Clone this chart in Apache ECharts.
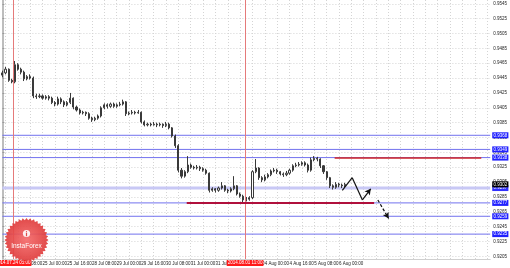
<!DOCTYPE html>
<html><head><meta charset="utf-8">
<script src="https://cdn.jsdelivr.net/npm/echarts@6/dist/echarts.min.js"></script>
<style>html,body{margin:0;padding:0;background:#fff}#c{width:510px;height:268px}</style>
</head><body><div id="c"></div>
<script>
// 2-hour bars: [open, close, low, high]
const ohlc = [
[0.9449,0.9452,0.9446,0.9455],[0.9452,0.9457,0.9450,0.9460],[0.9457,0.9442,0.9440,0.9458],[0.9442,0.9440,0.9438,0.9444],
[0.9440,0.9463,0.9438,0.9468],[0.9463,0.9457,0.9455,0.9465],[0.9457,0.9453,0.9450,0.9459],[0.9453,0.9444,0.9441,0.9455],
[0.9444,0.9447,0.9442,0.9449],[0.9447,0.9445,0.9443,0.9450],[0.9445,0.9421,0.9418,0.9447],[0.9421,0.9420,0.9417,0.9424],
[0.9420,0.9421,0.9418,0.9424],[0.9421,0.9418,0.9416,0.9423],[0.9418,0.9420,0.9416,0.9422],[0.9420,0.9418,0.9415,0.9422],
[0.9418,0.9412,0.9410,0.9420],[0.9412,0.9410,0.9407,0.9414],[0.9410,0.9417,0.9408,0.9420],[0.9417,0.9413,0.9410,0.9419],
[0.9413,0.9409,0.9406,0.9415],[0.9409,0.9412,0.9407,0.9414],[0.9412,0.9418,0.9410,0.9425],[0.9418,0.9406,0.9403,0.9419],
[0.9406,0.9402,0.9400,0.9408],[0.9402,0.9398,0.9396,0.9404],[0.9398,0.9399,0.9396,0.9401],[0.9399,0.9397,0.9394,0.9400],
[0.9397,0.9391,0.9389,0.9399],[0.9391,0.9389,0.9386,0.9393],[0.9389,0.9391,0.9387,0.9393],[0.9391,0.9394,0.9389,0.9396],
[0.9394,0.9405,0.9392,0.9407],[0.9405,0.9409,0.9403,0.9411],[0.9409,0.9407,0.9404,0.9411],[0.9407,0.9410,0.9405,0.9412],
[0.9410,0.9407,0.9405,0.9412],[0.9407,0.9409,0.9405,0.9411],[0.9409,0.9410,0.9407,0.9413],[0.9410,0.9413,0.9408,0.9416],
[0.9413,0.9397,0.9394,0.9414],[0.9397,0.9398,0.9395,0.9400],[0.9398,0.9399,0.9396,0.9402],[0.9399,0.9398,0.9396,0.9401],
[0.9398,0.9399,0.9397,0.9402],[0.9399,0.9386,0.9384,0.9400],[0.9386,0.9382,0.9380,0.9388],[0.9382,0.9383,0.9380,0.9385],
[0.9383,0.9382,0.9380,0.9385],[0.9382,0.9383,0.9381,0.9386],[0.9383,0.9382,0.9379,0.9385],[0.9382,0.9383,0.9380,0.9385],
[0.9383,0.9381,0.9378,0.9384],[0.9381,0.9383,0.9379,0.9386],[0.9383,0.9378,0.9376,0.9385],[0.9378,0.9367,0.9365,0.9379],
[0.9367,0.9354,0.9351,0.9369],[0.9354,0.9321,0.9318,0.9356],[0.9321,0.9313,0.9310,0.9324],[0.9313,0.9319,0.9311,0.9321],
[0.9319,0.9328,0.9317,0.9340],[0.9328,0.9325,0.9323,0.9330],[0.9325,0.9324,0.9322,0.9327],[0.9324,0.9325,0.9322,0.9328],
[0.9325,0.9323,0.9320,0.9327],[0.9323,0.9321,0.9319,0.9325],[0.9321,0.9317,0.9315,0.9323],[0.9317,0.9294,0.9291,0.9318],
[0.9294,0.9296,0.9292,0.9298],[0.9296,0.9294,0.9291,0.9297],[0.9294,0.9297,0.9292,0.9299],[0.9297,0.9300,0.9295,0.9305],
[0.9300,0.9294,0.9292,0.9301],[0.9294,0.9293,0.9290,0.9296],[0.9293,0.9296,0.9291,0.9298],[0.9296,0.9300,0.9294,0.9313],
[0.9300,0.9289,0.9287,0.9301],[0.9289,0.9286,0.9284,0.9291],[0.9286,0.9281,0.9278,0.9288],[0.9281,0.9282,0.9279,0.9285],
[0.9282,0.9284,0.9280,0.9286],[0.9284,0.9319,0.9282,0.9321],[0.9319,0.9324,0.9317,0.9336],[0.9324,0.9311,0.9308,0.9325],
[0.9311,0.9308,0.9305,0.9313],[0.9308,0.9312,0.9306,0.9315],[0.9312,0.9315,0.9310,0.9317],[0.9315,0.9320,0.9313,0.9322],
[0.9320,0.9321,0.9318,0.9324],[0.9321,0.9319,0.9316,0.9323],[0.9319,0.9316,0.9314,0.9320],[0.9316,0.9315,0.9312,0.9318],
[0.9315,0.9317,0.9313,0.9320],[0.9317,0.9321,0.9315,0.9323],[0.9321,0.9327,0.9319,0.9329],[0.9327,0.9328,0.9325,0.9331],
[0.9328,0.9329,0.9326,0.9332],[0.9329,0.9331,0.9327,0.9333],[0.9331,0.9328,0.9326,0.9333],[0.9328,0.9321,0.9318,0.9330],
[0.9321,0.9335,0.9319,0.9338],[0.9335,0.9337,0.9333,0.9340],[0.9337,0.9336,0.9333,0.9339],[0.9336,0.9327,0.9324,0.9337],
[0.9327,0.9319,0.9316,0.9328],[0.9319,0.9311,0.9308,0.9320],[0.9311,0.9300,0.9297,0.9312],[0.9300,0.9298,0.9295,0.9302],
[0.9298,0.9302,0.9296,0.9305],[0.9302,0.9301,0.9298,0.9304],[0.9301,0.9300,0.9297,0.9303],[0.9300,0.9302,0.9298,0.9304]
];
const yTicks = [0.9545,0.9525,0.9505,0.9485,0.9465,0.9445,0.9425,0.9405,0.9385,0.9365,0.9345,0.9325,0.9305,0.9285,0.9265,0.9245,0.9225,0.9205];
const levelLines = [0.9368,0.9349,0.9338,0.9277,0.9259,0.9235];
const bandLevel = 0.9297;
const lastPrice = 0.9302;
const resistance = {from:107.6, to:155.1, value:0.9338};
const support = {from:59.7, to:120.4, value:0.9277};
const zigzag = [[110.1,0.9294],[113.3,0.9311],[116.6,0.9281],[119.3,0.9296]];
const dashedArrow = [[121.6,0.9281],[125.1,0.9256]];
const markers = [{x:3.4,label:'2014.07.24 05:00'},{x:78.6,label:'2014.08.01 11:00'}];
const slotCount = 159;
const startTime = Date.UTC(2014,6,23,22);
const months = ['Jan','Feb','Mar','Apr','May','Jun','Jul','Aug','Sep','Oct','Nov','Dec'];

const categories = [];
let t = startTime;
for (let i = 0; i < slotCount; i++) {
  const d = new Date(t);
  categories.push(d.getUTCDate()+' '+months[d.getUTCMonth()]+' '+String(d.getUTCHours()).padStart(2,'0')+':00');
  t += 2*3600e3;
  if (new Date(t).getUTCDay() === 6) t += 48*3600e3;
}

const F = 'Liberation Sans, Arial, sans-serif';
const chart = echarts.init(document.getElementById('c'), null, {renderer:'canvas'});

function levelSeries(v, color, width, boxColor, z) {
  return {
    type:'line', xAxisIndex:1, silent:true, z:z, showSymbol:false, symbol:'none',
    data:[[0, v],[slotCount-1, v]],
    lineStyle:{color:color, width:width, opacity: color ? 1 : 0},
    endLabel:{show:true, formatter:v.toFixed(4), distance:2, color:'#fff', backgroundColor:boxColor,
      fontSize:4.5, fontFamily:F, padding:[0.5,1.2], lineHeight:5}
  };
}

// starburst logo outline
const burst = [];
for (let k = 0; k < 72; k++) {
  const a = k/72*Math.PI*2, r = (k%2===0) ? 22 : 19.8;
  burst.push([26.5 + r*Math.cos(a), 240 + r*Math.sin(a)]);
}

chart.setOption({
  animation:false,
  backgroundColor:'#fff',
  grid:{left:2.4, right:16, top:0, bottom:9, containLabel:false},
  xAxis:[{
    type:'category', data:categories, boundaryGap:false,
    axisLine:{show:true, lineStyle:{color:'#d0d0d0', width:1}},
    axisTick:{show:false},
    axisLabel:{show:true, interval:(i)=> (i-5)%8===0 && i <= ohlc.length, align:'left', margin:2, fontSize:4.5, color:'#222', fontFamily:F},
    splitLine:{show:true, interval:(i)=> (i-1)%4===0, lineStyle:{color:'#d4d4d4', type:[1,2], width:1}}
  },{
    type:'value', min:0, max:slotCount-1, show:false
  }],
  yAxis:{
    type:'value', position:'right', min:0.92015, max:0.95501, scale:true,
    axisLine:{show:true, lineStyle:{color:'#bdbdbd', width:2}},
    axisTick:{show:true, customValues:yTicks, length:2, lineStyle:{color:'#999'}},
    axisLabel:{customValues:yTicks, formatter:(v)=>v.toFixed(4), fontSize:4.5, color:'#222', margin:3, fontFamily:F},
    splitLine:{show:true, lineStyle:{color:'#d4d4d4', type:[1,2], width:1}}
  },
  series:[
    levelSeries(bandLevel, '#c8c8f5', 3, '#3030ff', 2),
    ...levelLines.map(v => levelSeries(v, '#7272ee', 1, '#2020ff', 3)),
    levelSeries(lastPrice, null, 1, '#000000', 4),
    {
      type:'candlestick', data:ohlc, barWidth:1.6, z:3,
      itemStyle:{color:'#ffffff', color0:'#3a3a3a', borderColor:'#3a3a3a', borderColor0:'#3a3a3a', borderWidth:1}
    },
    {
      type:'line', data:[], xAxisIndex:1, silent:true, z:5,
      markLine:{silent:true, symbol:'none', animation:false,
        data:[
          ...markers.map(m=>({xAxis:m.x, lineStyle:{color:'#e57a7a', width:1, type:'solid'},
            label:{show:true, position:'start', distance:1, formatter:m.label, color:'#fff', backgroundColor:'#ff1a1a', fontSize:4.5, fontFamily:F, padding:[0.5,1], lineHeight:5}})),
          [{coord:[support.from, support.value], lineStyle:{color:'#b0103c', width:2, type:'solid'}, label:{show:false}},{coord:[support.to, support.value]}],
          [{coord:[resistance.from, resistance.value], lineStyle:{color:'#d02424', width:1.5, type:'solid'}, label:{show:false}},{coord:[resistance.to, resistance.value]}]
        ]}
    },
    {
      type:'line', data:[], xAxisIndex:1, silent:true, z:6,
      markLine:{silent:true, animation:false, symbol:'none',
        lineStyle:{color:'#111', width:1.2, type:'solid'}, label:{show:false},
        data: zigzag.slice(0,-1).map((p,k)=>[
          {coord:p, symbol:'none'},
          {coord:zigzag[k+1], symbol: k===zigzag.length-2 ? 'arrow' : 'none', symbolSize:[5,6]}
        ])}
    },
    {
      type:'line', data:[], xAxisIndex:1, silent:true, z:6,
      markLine:{silent:true, animation:false, symbol:['none','arrow'], symbolSize:[5,6],
        lineStyle:{color:'#111', width:1.2, type:[3,2]}, label:{show:false},
        data:[[{coord:dashedArrow[0]},{coord:dashedArrow[1]}]]}
    }
  ],
  graphic:[
    {type:'polygon', z:100, shape:{points:burst},
      style:{fill:new echarts.graphic.RadialGradient(0.5,0.5,0.5,[{offset:0,color:'#f46a6a'},{offset:1,color:'#de3a3a'}]), opacity:0.92}},
    {type:'circle', z:101, shape:{cx:26.5, cy:233.5, r:3.6}, style:{fill:'#fff', opacity:0.9}},
    {type:'rect', z:102, shape:{x:25.9, y:232.6, width:1.2, height:3.6}, style:{fill:'#e04a4a'}},
    {type:'circle', z:102, shape:{cx:26.5, cy:231.5, r:0.6}, style:{fill:'#e04a4a'}},
    {type:'text', z:101, x:26.5, y:246, style:{text:'InstaForex', fill:'#fff', font:'6.5px '+F, align:'center', verticalAlign:'middle'}}
  ]
});
</script></body></html>
